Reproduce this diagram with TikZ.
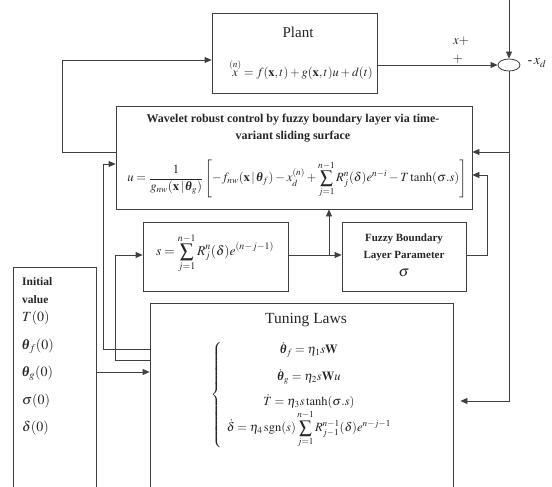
\documentclass[tikz,border=0pt]{standalone}
\usepackage{amsmath,amssymb}
\usepackage{mathptmx}
\usepackage[no-math]{fontspec}
\setmainfont{Liberation Serif}
\usetikzlibrary{shapes.geometric,arrows.meta}
\newcommand{\btheta}{\text{\bfseries\itshape θ}}

\begin{document}
\begin{tikzpicture}[x=1pt,y=-1pt,
			box/.style={draw=black!75, line width=0.8pt, rectangle, inner sep=0pt},
			wire/.style={draw=black!75, line width=0.8pt},
			txt/.style={text=black!85, inner sep=0pt},
			>={Triangle[length=7pt,width=6pt]}]
			\path[use as bounding box, clip] (0,0) rectangle (552,487);
			
			% blocks
			\node[box, minimum width=165pt, minimum height=80pt] (plant) at (294.5,53) {};
			\node[box, minimum width=356pt, minimum height=103pt] (ctrl) at (294,157.5) {};
			\node[box, minimum width=145pt, minimum height=69pt] (sbox) at (215.5,256.5) {};
			\node[box, minimum width=124pt, minimum height=69pt] (fuzzy) at (404,256.5) {};
			\node[box, minimum width=303pt, minimum height=217pt] (tuning) at (301.5,411.5) {};
			\node[box, minimum width=83pt, minimum height=253pt] (init) at (54.5,393.5) {};
			\node[draw=black!75, line width=0.8pt, ellipse, minimum width=22pt, minimum height=12pt, inner sep=0pt] (sum) at (509,65) {};
			
			% texts
			\node[txt, font=\fontsize{15}{18}\selectfont] (plant-title) at (298,32) {Plant};
			\node[txt, font=\fontsize{12.5}{14}\selectfont, anchor=base] (plant-eq) at (301,77) {$\overset{(n)}{x} = f(\mathbf{x},t)+g(\mathbf{x},t)u+d(t)$};
			\node[txt, font=\fontsize{13}{15}\selectfont, anchor=base] (xplus) at (461,45) {$x+$};
			\node[txt, font=\fontsize{13}{15}\selectfont] (plus) at (458,59) {$+$};
			\node[txt, font=\fontsize{14}{16}\selectfont] (xd) at (537,63) {$\text{-}\,x_d$};
			
			\node[txt, font=\bfseries\fontsize{12}{17}\selectfont, align=center] (ctrl-title) at (293,128) {Wavelet robust control by fuzzy boundary layer via time-\\variant sliding surface};
			\node[txt, font=\fontsize{12.6}{15}\selectfont] (ctrl-eq) at (297,179) {$u=\dfrac{1}{g_{nw}(\mathbf{x}\,|\,\btheta_g)}\left[-f_{nw}(\mathbf{x}\,|\,\btheta_f)-x_d^{(n)}+\displaystyle\sum_{j=1}^{n-1}R_j^n(\delta)e^{n-i}-T\tanh(\sigma.s)\right]$};
			
			\node[txt, font=\fontsize{13.5}{15}\selectfont] (sbox-eq) at (215,253) {$s=\displaystyle\sum_{j=1}^{n-1}R_j^n(\delta)e^{(n-j-1)}$};
			
			\node[txt, font=\bfseries\fontsize{11}{17.5}\selectfont, align=center] (fuzzy-txt) at (404,255) {Fuzzy Boundary\\Layer Parameter\\{\fontsize{15}{15}\selectfont$\sigma$}};
			
			\node[txt, font=\fontsize{15.5}{18}\selectfont] (tuning-title) at (306,320) {Tuning Laws};
			\node[txt, font=\fontsize{12.5}{14}\selectfont] (tuning-eq) at (304,395) {$\left\{\begin{array}{c}
					\dot{\btheta}_f=\eta_1 s\mathbf{W}\\[12pt]
					\dot{\btheta}_g=\eta_2 s\mathbf{W}u\\[10pt]
					\dot{T}=\eta_3 s\tanh(\sigma.s)\\[1pt]
					\dot{\delta}=\eta_4\,\mathrm{sgn}(s)\displaystyle\sum_{j=1}^{n-1}R_{j-1}^{n-1}(\delta)e^{n-j-1}
				\end{array}\right.$};
			
			\node[txt, font=\bfseries\fontsize{11.5}{18}\selectfont, align=left, anchor=west] (init-title) at (22,291) {Initial\\value};
			\node[txt, font=\fontsize{14}{27.5}\selectfont, align=left, anchor=north west] (init-vals) at (22,311) {$T(0)$\\$\btheta_f(0)$\\$\btheta_g(0)$\\$\sigma(0)$\\$\delta(0)$};
			
			% connections
			\draw[wire, ->] (ctrl.west |- 0,152) -- (62,152) -- (62,60) -- (plant.west |- 0,60);
			\draw[wire, ->] (plant.east |- 0,65) -- (sum.west);
			\draw[wire, ->] (509,0) -- (sum.north);
			\draw[wire, ->] (sum.south) -- (509,401) -- ([xshift=7pt]tuning.east |- 0,401);
			\draw[wire, ->] (509,152) -- (ctrl.east |- 0,152);
			\draw[wire, ->] (sbox.east |- 0,255) -- (fuzzy.west |- 0,255);
			\draw[wire, ->] (329,255) -- (ctrl.south -| 329,0);
			\draw[wire, ->] (fuzzy.east |- 0,255) -- (487,255) -- (487,175) -- (ctrl.east |- 0,175);
			\draw[wire, ->] (tuning.west |- 0,349) -- (103,349) -- (103,164) -- (ctrl.west |- 0,164);
			\draw[wire, ->] (tuning.west |- 0,360) -- (115,360) -- (115,255) -- (sbox.west |- 0,255);
			\draw[wire, ->] (init.east |- 0,372) -- (tuning.west |- 0,372);
		\end{tikzpicture}
\end{document}
